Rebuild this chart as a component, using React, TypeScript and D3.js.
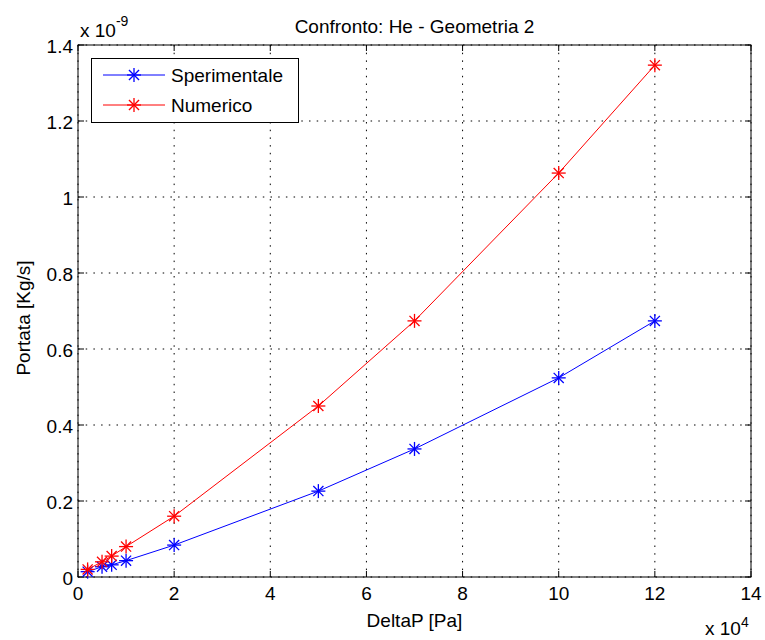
import React from "react";
import * as d3 from "d3";

const xValues = [0.2, 0.5, 0.7, 1, 2, 5, 7, 10, 12]; // x 10^4 Pa
const sperimentale = [0.014, 0.027, 0.032, 0.043, 0.084, 0.226, 0.337, 0.524, 0.674]; // x 10^-9
const numerico = [0.02, 0.04, 0.055, 0.08, 0.16, 0.45, 0.674, 1.063, 1.347];
const xTicks = [0, 2, 4, 6, 8, 10, 12, 14];
const yTicks = [0, 0.2, 0.4, 0.6, 0.8, 1, 1.2, 1.4];
const yTickLabels = ["0", "0.2", "0.4", "0.6", "0.8", "1", "1.2", "1.4"];

const W = 765, H = 640;
const L = 78, R = 751, T = 45, B = 577;
const FONT = "'Liberation Sans', Arial, sans-serif";
const FS = 19;

function Star({ x, y, color }: { x: number; y: number; color: string }) {
  const r = 7, d = r * 0.72;
  return (
    <g stroke={color} strokeWidth={1.3}>
      <line x1={x - r} y1={y} x2={x + r} y2={y} />
      <line x1={x} y1={y - r} x2={x} y2={y + r} />
      <line x1={x - d} y1={y - d} x2={x + d} y2={y + d} />
      <line x1={x - d} y1={y + d} x2={x + d} y2={y - d} />
    </g>
  );
}

export default function App() {
  const x = d3.scaleLinear().domain([0, 14]).range([L, R]);
  const y = d3.scaleLinear().domain([0, 1.4]).range([B, T]);
  const line = d3.line<number>().x((_, i) => x(xValues[i])).y((v) => y(v));
  const series = [
    { name: "Sperimentale", data: sperimentale, color: "#0000ff" },
    { name: "Numerico", data: numerico, color: "#ff0000" },
  ];
  return (
    <svg width={W} height={H} style={{ position: "absolute", left: 0, top: 0, background: "#fff" }} fontFamily={FONT}>
      <rect x={0} y={0} width={W} height={H} fill="#fff" />
      {/* grid */}
      {xTicks.map((t) => (
        <line key={"gx" + t} x1={x(t)} x2={x(t)} y1={T} y2={B} stroke="#000" strokeWidth={1} strokeDasharray="1.5,6.2" />
      ))}
      {yTicks.map((t) => (
        <line key={"gy" + t} x1={L} x2={R} y1={y(t)} y2={y(t)} stroke="#000" strokeWidth={1} strokeDasharray="1.5,6.2" />
      ))}
      {/* frame */}
      <rect x={L} y={T} width={R - L} height={B - T} fill="none" stroke="#000" strokeWidth={1} />
      {/* ticks */}
      {xTicks.map((t) => (
        <g key={"tx" + t}>
          <line x1={x(t)} x2={x(t)} y1={B} y2={B - 6} stroke="#000" />
          <line x1={x(t)} x2={x(t)} y1={T} y2={T + 6} stroke="#000" />
          <text x={x(t)} y={B + 23} textAnchor="middle" fontSize={FS} fill="#000">{t}</text>
        </g>
      ))}
      {yTicks.map((t, i) => (
        <g key={"ty" + t}>
          <line x1={L} x2={L + 6} y1={y(t)} y2={y(t)} stroke="#000" />
          <line x1={R} x2={R - 6} y1={y(t)} y2={y(t)} stroke="#000" />
          <text x={L - 5} y={y(t) + 8} textAnchor="end" fontSize={FS} fill="#000">{yTickLabels[i]}</text>
        </g>
      ))}
      {/* exponents */}
      <text x={80} y={37} fontSize={FS} fill="#000">x 10<tspan dy={-11} fontSize={14}>-9</tspan></text>
      <text x={705} y={635} fontSize={FS} fill="#000">x 10<tspan dy={-8} fontSize={14}>4</tspan></text>
      {/* title and labels */}
      <text x={(L + R) / 2} y={33} textAnchor="middle" fontSize={FS} fill="#000">Confronto: He - Geometria 2</text>
      <text x={(L + R) / 2} y={627} textAnchor="middle" fontSize={FS} fill="#000">DeltaP [Pa]</text>
      <text transform={`translate(30,318) rotate(-90)`} textAnchor="middle" fontSize={FS} fill="#000">Portata [Kg/s]</text>
      {/* series */}
      {series.map((s) => (
        <g key={s.name}>
          <path d={line(s.data) || ""} fill="none" stroke={s.color} strokeWidth={1} />
          {s.data.map((v, i) => (
            <Star key={i} x={x(xValues[i])} y={y(v)} color={s.color} />
          ))}
        </g>
      ))}
      {/* legend */}
      <rect x={91.5} y={58.5} width={207} height={64} fill="#fff" stroke="#000" strokeWidth={1} />
      {series.map((s, i) => (
        <g key={"lg" + s.name}>
          <line x1={103} x2={165} y1={75 + i * 30} y2={75 + i * 30} stroke={s.color} strokeWidth={1} />
          <Star x={134} y={75 + i * 30} color={s.color} />
          <text x={171} y={82 + i * 30} fontSize={FS} fill="#000">{s.name}</text>
        </g>
      ))}
    </svg>
  );
}
